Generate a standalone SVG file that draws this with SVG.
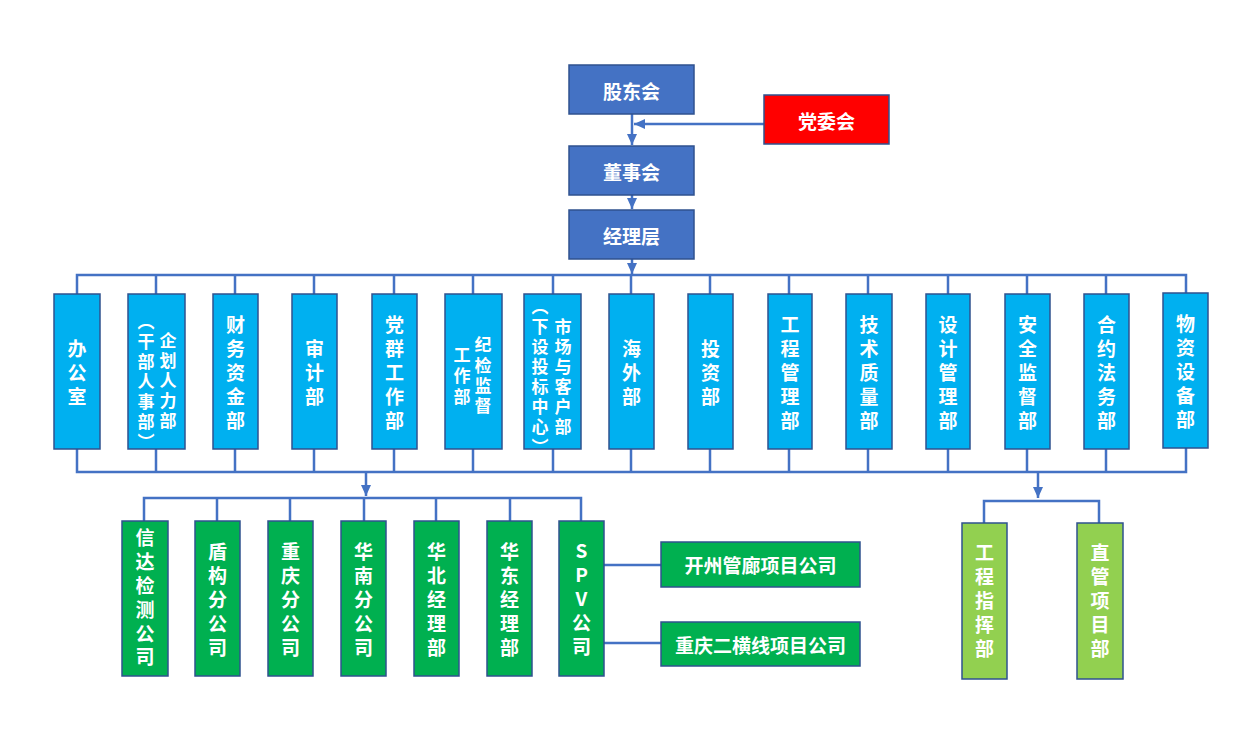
<svg xmlns="http://www.w3.org/2000/svg" width="1248" height="732" viewBox="0 0 1248 732">
<style>
.b{fill:#4472C4;stroke:#2F528F;stroke-width:1.5}
.r{fill:#FF0000;stroke:#2F528F;stroke-width:1.5}
.c{fill:#00B0F0;stroke:#2F528F;stroke-width:1.5}
.g{fill:#00B050;stroke:#2F528F;stroke-width:1.5}
.lg{fill:#92D050;stroke:#2F528F;stroke-width:1.5}
text{font-family:"Noto Sans CJK SC","Noto Sans",sans-serif;font-weight:bold;fill:#FFFFFF;text-anchor:middle;dominant-baseline:central}
.t{font-size:19px}
.v{font-size:19px;writing-mode:vertical-rl;letter-spacing:5px}
.v2{font-size:17px;writing-mode:vertical-rl;letter-spacing:3px}
.up{text-orientation:upright}
.w{fill:none;stroke:#4472C4;stroke-width:2.5}
</style>
<defs>
<marker id="ah" markerUnits="userSpaceOnUse" markerWidth="12" markerHeight="10" refX="11" refY="5" orient="auto">
<path d="M0,0 L11,5 L0,10 Z" fill="#4472C4"/>
</marker>
</defs>
<rect width="1248" height="732" fill="#FFFFFF"/>

<g id="connectors">
<path class="w" d="M632 114 V145" marker-end="url(#ah)"/>
<path class="w" d="M764 124 H634" marker-end="url(#ah)"/>
<path class="w" d="M632 195 V209" marker-end="url(#ah)"/>
<path class="w" d="M632 259 V274" marker-end="url(#ah)"/>
<path class="w" d="M77 294 V275 H1186 V293"/>
<path class="w" d="M156 275 V294 M235 275 V294 M314 275 V294 M394 275 V294 M473 275 V294 M553 275 V294 M631 275 V294 M710 275 V294 M789 275 V294 M868 275 V294 M948 275 V294 M1027 275 V294 M1106 275 V294"/>
<path class="w" d="M77 449 V472 H1186 V448"/>
<path class="w" d="M156 449 V472 M235 449 V472 M314 449 V472 M394 449 V472 M473 449 V472 M553 449 V472 M631 449 V472 M710 449 V472 M789 449 V472 M868 449 V472 M948 449 V472 M1027 449 V472 M1106 449 V472"/>
<path class="w" d="M366 472 V496" marker-end="url(#ah)"/>
<path class="w" d="M144 521 V498 H581 V521"/>
<path class="w" d="M217 498 V521 M290 498 V521 M364 498 V521 M436 498 V521 M510 498 V521"/>
<path class="w" d="M604 565 H661 M604 643 H661"/>
<path class="w" d="M1038 472 V498" marker-end="url(#ah)"/>
<path class="w" d="M984 523 V501 H1099 V523"/>
</g>

<g id="n_gudong"><rect class="b" x="569" y="65" width="125" height="49"/><text class="t" x="631.5" y="90">股东会</text></g>
<g id="n_dangwei"><rect class="r" x="764" y="95" width="125" height="49"/><text class="t" x="826.5" y="120">党委会</text></g>
<g id="n_dongshi"><rect class="b" x="569" y="146" width="125" height="49"/><text class="t" x="631.5" y="171">董事会</text></g>
<g id="n_jingli"><rect class="b" x="569" y="210" width="125" height="49"/><text class="t" x="631.5" y="235">经理层</text></g>

<g id="d_bangong"><rect class="c" x="54" y="294" width="46" height="155"/><text class="v" x="77" y="375.5">办公室</text></g>
<g id="d_qihua"><rect class="c" x="128" y="294" width="57" height="155"/>
<text class="v2" x="168" y="382.5">企划人力部</text>
<text class="v2" x="146" y="383.5">（干部人事部）</text></g>
<g id="d_caiwu"><rect class="c" x="213" y="294" width="45" height="155"/><text class="v" x="235.5" y="375">财务资金部</text></g>
<g id="d_shenji"><rect class="c" x="292" y="294" width="45" height="155"/><text class="v" x="314.5" y="375.5">审计部</text></g>
<g id="d_dangqun"><rect class="c" x="372" y="294" width="45" height="155"/><text class="v" x="394.5" y="375">党群工作部</text></g>
<g id="d_jijian"><rect class="c" x="445" y="294" width="57" height="155"/>
<text class="v2" x="483" y="377" style="letter-spacing:3.3px">纪检监督</text>
<text class="v2" x="462" y="378" style="letter-spacing:4px">工作部</text></g>
<g id="d_shichang"><rect class="c" x="524" y="294" width="57" height="155"/>
<text class="v2" x="563" y="378.5">市场与客户部</text>
<text class="v2" x="540" y="378.5">（下设投标中心）</text></g>
<g id="d_haiwai"><rect class="c" x="609" y="294" width="45" height="155"/><text class="v" x="631.5" y="375.5">海外部</text></g>
<g id="d_touzi"><rect class="c" x="688" y="294" width="45" height="155"/><text class="v" x="710.5" y="375.5">投资部</text></g>
<g id="d_gongcheng"><rect class="c" x="768" y="294" width="44" height="155"/><text class="v" x="790" y="375">工程管理部</text></g>
<g id="d_jishu"><rect class="c" x="846" y="294" width="46" height="155"/><text class="v" x="869" y="375">技术质量部</text></g>
<g id="d_sheji"><rect class="c" x="926" y="294" width="44" height="155"/><text class="v" x="948" y="375">设计管理部</text></g>
<g id="d_anquan"><rect class="c" x="1005" y="294" width="45" height="155"/><text class="v" x="1027.5" y="375">安全监督部</text></g>
<g id="d_heyue"><rect class="c" x="1084" y="294" width="45" height="155"/><text class="v" x="1106.5" y="375">合约法务部</text></g>
<g id="d_wuzi"><rect class="c" x="1163" y="293" width="45" height="155"/><text class="v" x="1185.5" y="374">物资设备部</text></g>

<g id="s_xinda"><rect class="g" x="122" y="521" width="46" height="155"/><text class="v" x="145" y="600" style="letter-spacing:4.8px">信达检测公司</text></g>
<g id="s_dungou"><rect class="g" x="195" y="521" width="45" height="155"/><text class="v" x="217.5" y="602">盾构分公司</text></g>
<g id="s_chongqing"><rect class="g" x="268" y="521" width="45" height="155"/><text class="v" x="290.5" y="602">重庆分公司</text></g>
<g id="s_huanan"><rect class="g" x="341" y="521" width="45" height="155"/><text class="v" x="363.5" y="602">华南分公司</text></g>
<g id="s_huabei"><rect class="g" x="414" y="521" width="45" height="155"/><text class="v" x="436.5" y="602">华北经理部</text></g>
<g id="s_huadong"><rect class="g" x="487" y="521" width="45" height="155"/><text class="v" x="509.5" y="602">华东经理部</text></g>
<g id="s_spv"><rect class="g" x="559" y="521" width="45" height="155"/><text class="v up" x="581.5" y="601">SPV公司</text></g>
<g id="s_kaizhou"><rect class="g" x="661" y="542" width="199" height="45"/><text class="t" x="760.5" y="564.5">开州管廊项目公司</text></g>
<g id="s_erheng"><rect class="g" x="661" y="622" width="199" height="44"/><text class="t" x="760.5" y="644">重庆二横线项目公司</text></g>

<g id="p_zhihui"><rect class="lg" x="962" y="523" width="45" height="156"/><text class="v" x="984.5" y="603.5">工程指挥部</text></g>
<g id="p_zhiguan"><rect class="lg" x="1077" y="523" width="46" height="156"/><text class="v" x="1100" y="603.5">直管项目部</text></g>
</svg>
